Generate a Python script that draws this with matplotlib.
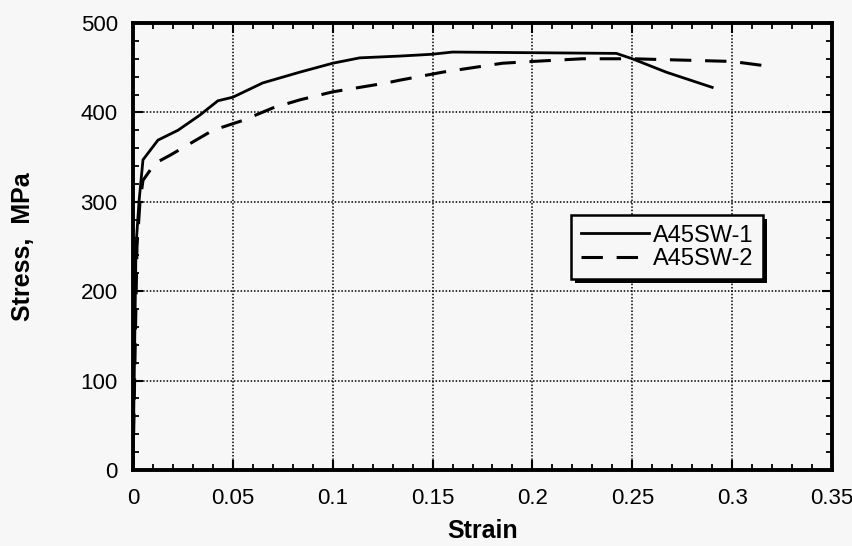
import matplotlib
matplotlib.use("Agg")
import matplotlib.pyplot as plt
from matplotlib.patches import Rectangle
from matplotlib.ticker import MultipleLocator, FixedLocator

# Engineering stress-strain data for the two specimens
strain_sw1 = [0.0, 0.0015, 0.003, 0.005, 0.0125, 0.0225, 0.0335, 0.0425, 0.05,
              0.065, 0.0835, 0.1, 0.1135, 0.1335, 0.1495, 0.16, 0.242, 0.25,
              0.267, 0.29]
stress_sw1 = [0, 250, 300, 347, 369, 380, 397, 413, 417,
              433, 445, 455, 461, 463, 465, 467.5, 466, 460,
              445, 428]

strain_sw2 = [0.0, 0.002, 0.0035, 0.005, 0.011, 0.0185, 0.04, 0.055, 0.07,
              0.0835, 0.1, 0.127, 0.1335, 0.155, 0.185, 0.2, 0.225, 0.25,
              0.30, 0.317]
stress_sw2 = [0, 250, 300, 324, 343, 352, 380, 391, 405,
              414, 423, 433, 436, 445, 455, 457, 460, 460,
              457, 452]

series_labels = ["A45SW-1", "A45SW-2"]
x_ticks = [0, 0.05, 0.1, 0.15, 0.2, 0.25, 0.3, 0.35]
x_tick_labels = ["0", "0.05", "0.1", "0.15", "0.2", "0.25", "0.3", "0.35"]
y_ticks = [0, 100, 200, 300, 400, 500]

plt.rcParams["font.family"] = ["Liberation Sans", "DejaVu Sans"]

bg = "#f7f7f7"
fig = plt.figure(figsize=(8.53, 5.46), dpi=100, facecolor=bg)
ax = fig.add_axes([133 / 853, 76 / 546, 699 / 853, 447 / 546], facecolor=bg)

ax.plot(strain_sw1, stress_sw1, color="black", lw=2.0, solid_joinstyle="round",
        label=series_labels[0])
ax.plot(strain_sw2, stress_sw2, color="black", lw=2.2, dashes=(7, 4.5),
        label=series_labels[1])

ax.set_xlim(0, 0.35)
ax.set_ylim(0, 500)
ax.xaxis.set_major_locator(FixedLocator(x_ticks))
ax.set_xticklabels(x_tick_labels)
ax.yaxis.set_major_locator(FixedLocator(y_ticks))
ax.xaxis.set_minor_locator(MultipleLocator(0.01))
ax.yaxis.set_minor_locator(MultipleLocator(20))

ax.grid(True, which="major", color="black", linestyle=(0, (1, 1.2)), lw=1.1)

for s in ax.spines.values():
    s.set_linewidth(2.8)

ax.tick_params(which="both", direction="in", top=True, right=True,
               labelsize=16, color="black")
ax.tick_params(which="major", length=7, width=1.5)
ax.tick_params(which="minor", length=4, width=1.3)
ax.tick_params(axis="x", which="major", pad=13)
ax.tick_params(axis="y", which="major", pad=11)

ax.set_xlabel("Strain", fontsize=18, fontweight="bold", labelpad=7)
ax.set_ylabel("Stress,  MPa", fontsize=18, fontweight="bold", labelpad=33)

leg = ax.legend(loc="upper right", bbox_to_anchor=(0.901, 0.570),
                borderaxespad=0, fontsize=17, handlelength=2.9,
                handletextpad=0.15, labelspacing=0.05, borderpad=0.4,
                frameon=True, fancybox=False, edgecolor="black",
                facecolor=bg, framealpha=1)
leg.get_frame().set_linewidth(1.8)
leg.set_zorder(5)

# Solid drop shadow behind the legend box
fig.canvas.draw()
bb = leg.get_window_extent().transformed(ax.transAxes.inverted())
off_x = 4 / 699
off_y = 4 / 447
shadow = Rectangle((bb.x0 + off_x, bb.y0 - off_y), bb.width, bb.height,
                   transform=ax.transAxes, facecolor="black",
                   edgecolor="none", zorder=4.5)
ax.add_patch(shadow)

fig.savefig("out.png", dpi=100, facecolor=bg)
